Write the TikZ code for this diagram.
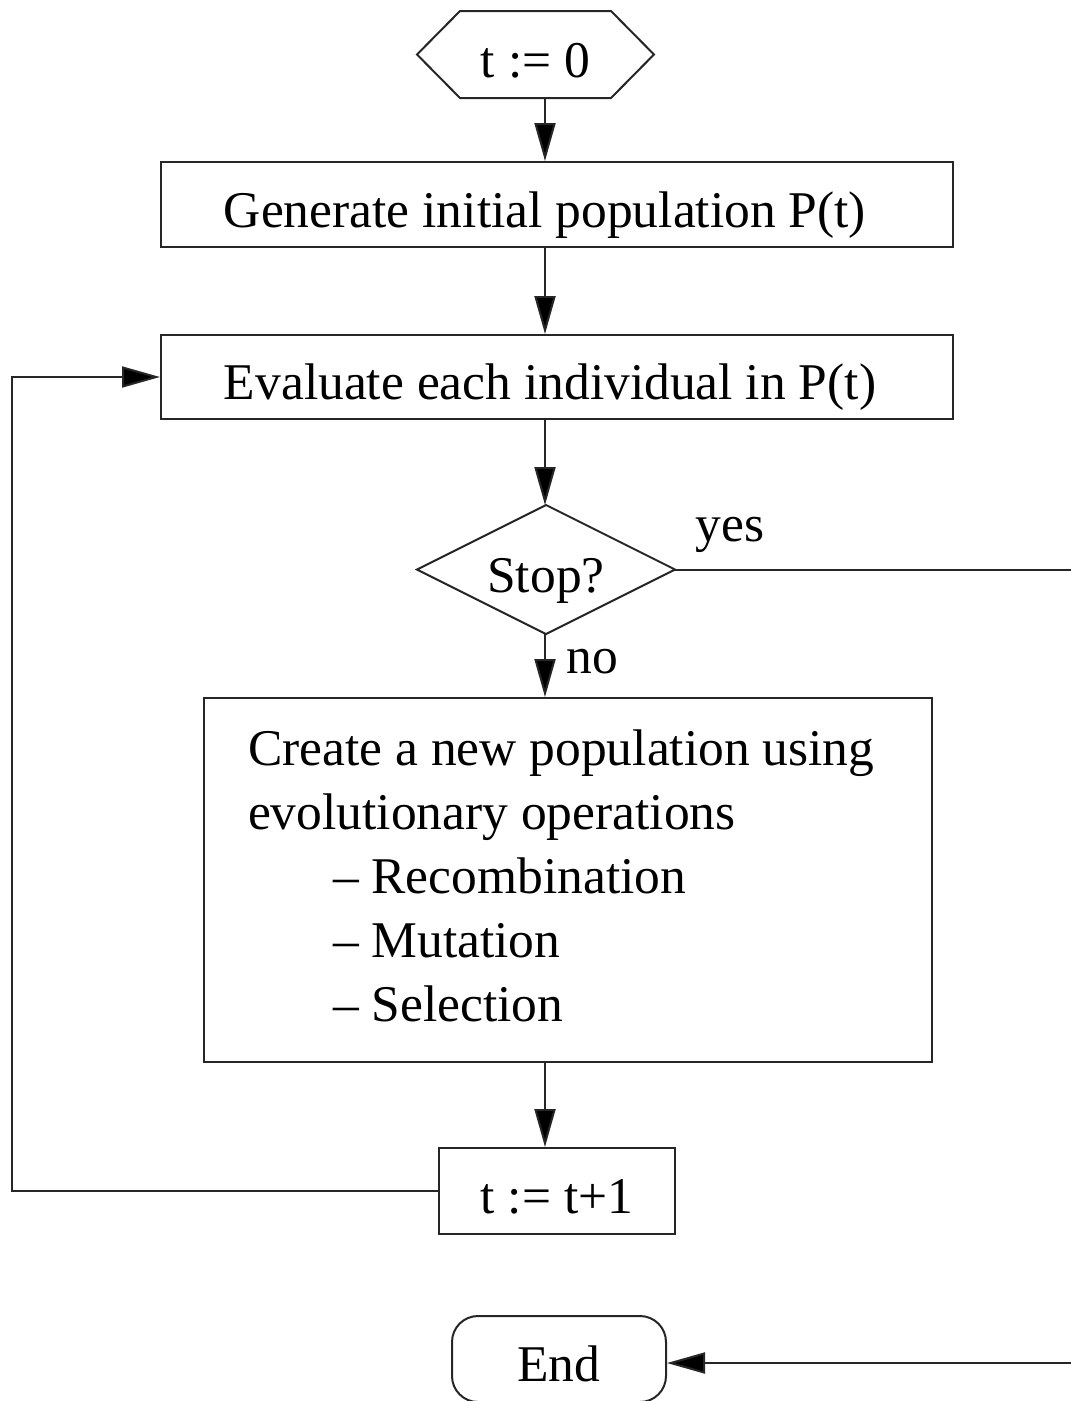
\documentclass[tikz,border=0pt]{standalone}
\usepackage{fontspec}
\setmainfont{Liberation Serif}
\usetikzlibrary{arrows.meta}
\begin{document}
\begin{tikzpicture}[x=1pt,y=-1pt,
  line width=2pt, draw={black!85},
  every node/.style={font=\fontsize{51.5}{64}\selectfont, text=black},
  box/.style={draw, rectangle, inner sep=0pt, text height=45pt, text depth=0pt},
  ghost/.style={rectangle, inner sep=0pt, text height=45pt, text depth=0pt},
  arr/.style={-{Triangle[length=38pt,width=21pt,fill=black]}},
  lbl/.style={inner sep=0pt}]
\useasboundingbox (0,0) rectangle (1071,1401);
% start hexagon
\node[ghost, minimum width=235pt, minimum height=85pt] (t0) at (535.5,54.5) {t := 0};
\draw (t0.west) -- ([xshift=43pt]t0.north west) -- ([xshift=-43pt]t0.north east)
  -- (t0.east) -- ([xshift=-43pt]t0.south east) -- ([xshift=43pt]t0.south west) -- cycle;
% generate
\node[box, minimum width=792pt, minimum height=85pt] (gen) at (557,204.5) {\hspace*{-24pt}Generate initial population P(t)};
% evaluate
\node[box, minimum width=792pt, minimum height=84pt] (eval) at (557,377) {\hspace*{-14pt}Evaluate each individual in P(t)};
% stop diamond
\node[ghost, minimum width=256pt, minimum height=127pt] (stop) at (546,569.5) {Stop?};
\draw (stop.west) -- (stop.north) -- (stop.east) -- (stop.south) -- cycle;
% create
\node[draw, rectangle, minimum width=728pt, minimum height=364pt] (create) at (568,880) {};
\node[inner sep=0pt, anchor=base west, align=left] (createtext) at (247,1021)
  {Create a new population using\\
   evolutionary operations\\
   \hspace*{85pt}– Recombination\\
   \hspace*{85pt}– Mutation\\
   \hspace*{85pt}– Selection};
% t := t+1
\node[box, minimum width=236pt, minimum height=86pt] (inc) at (557,1191) {t := t+1};
% end
\node[box, rounded corners=26pt, minimum width=214pt, minimum height=86pt] (end) at (559,1359) {End};
% coordinates
\coordinate (yesR) at (1071,569.5);
\coordinate (endR) at (1071,1363);
\coordinate (loopB) at (12,1191);
\coordinate (loopT) at (12,377);
% connectors
\draw[arr] (t0.south -| 545,0) -- (gen.north -| 545,0);
\draw[arr] (gen.south -| 545,0) -- (eval.north -| 545,0);
\draw[arr] (eval.south -| 545,0) -- (stop.north -| 545,0);
\draw[arr] (stop.south -| 545,0) -- (create.north -| 545,0);
\draw[arr] (create.south -| 545,0) -- (inc.north -| 545,0);
\draw (stop.east) -- (yesR);
\draw[arr] (endR) -- (end.east |- endR);
\draw[arr] (inc.west) -- (loopB) -- (loopT) -- (eval.west);
% labels
\node[lbl] (yes) at (730,535) {yes};
\node[lbl] (no) at (592,662) {no};
\end{tikzpicture}
\end{document}
